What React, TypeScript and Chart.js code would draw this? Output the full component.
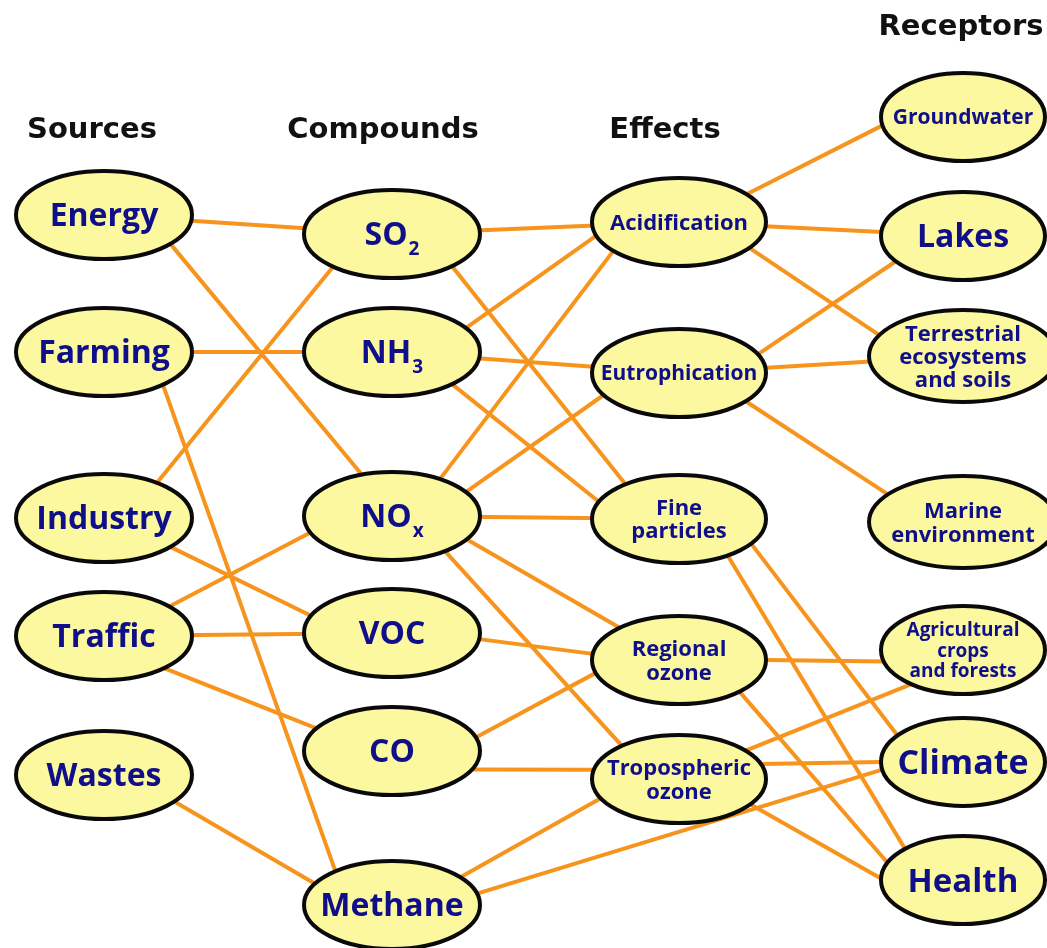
import { useEffect, useRef } from "react";
import { Chart, registerables } from "chart.js";

Chart.register(...registerables);

// ---------------- data ----------------
const columnTitles = ["Sources", "Compounds", "Effects", "Receptors"];

const sourceNames = ["Energy", "Farming", "Industry", "Traffic", "Wastes"];
const sourceRows = [215, 352, 518, 636, 775];

const compoundNames = ["SO_2", "NH_3", "NO_x", "VOC", "CO", "Methane"];
const compoundRows = [234, 352, 516, 633, 751, 905];

const effectNames = ["Acidification", "Eutrophication", "Fine\nparticles", "Regional\nozone", "Tropospheric\nozone"];
const effectRows = [222, 373, 519, 660, 779];

const receptorNames = [
  "Groundwater",
  "Lakes",
  "Terrestrial\necosystems\nand soils",
  "Marine\nenvironment",
  "Agricultural\ncrops\nand forests",
  "Climate",
  "Health",
];
const receptorRows = [117, 236, 356, 522, 650, 762, 880];

// links (by first word of node label)
const linkSource = [
  "Energy", "Energy", "Farming", "Farming", "Industry", "Industry", "Traffic", "Traffic", "Traffic", "Wastes",
  "SO_2", "SO_2", "NH_3", "NH_3", "NH_3", "NO_x", "NO_x", "NO_x", "NO_x", "NO_x", "VOC", "CO", "CO", "Methane", "Methane",
  "Acidification", "Acidification", "Acidification", "Eutrophication", "Eutrophication", "Eutrophication",
  "Fine", "Fine", "Regional", "Regional", "Tropospheric", "Tropospheric", "Tropospheric",
];
const linkTarget = [
  "SO_2", "NO_x", "NH_3", "Methane", "SO_2", "VOC", "NO_x", "VOC", "CO", "Methane",
  "Acidification", "Fine", "Acidification", "Eutrophication", "Fine", "Acidification", "Eutrophication", "Fine", "Regional", "Tropospheric", "Regional", "Regional", "Tropospheric", "Tropospheric", "Climate",
  "Groundwater", "Lakes", "Terrestrial", "Lakes", "Terrestrial", "Marine",
  "Climate", "Health", "Agricultural", "Health", "Agricultural", "Climate", "Health",
];

// ---------------- layout / style ----------------
const W = 1047;
const H = 948;
const columnX = [104, 392, 679, 963];
const titleX = [92, 383, 665, 961];
const titleBaseline = [138, 138, 138, 35];

// attachment angle (deg) on the ellipse rim for each link end; null = centre
const linkFromPort: (number | null)[] = [
  null, 41, null, 48, -53, 41, -42, null, 47, 37,
  null, 47, -33, null, 47, -57, -33, null, 32, 53, 8, -18, 25, -39, -15,
  -39, null, 36, -25, null, 40,
  34, 56, 0, 46, -40, -20, 35,
];
const linkToPort: (number | null)[] = [
  null, -110, null, -130, 132, -157, 158, null, -149, -151,
  null, -128, 162, null, -157, 139, 150, null, -133, -131, -172, 163, -168, 154, 170,
  169, null, -153, 145, null, -143,
  -143, -135, 165, -157, 129, 180, -178,
];

const labelSize: Record<string, number> = {
  Energy: 32, Farming: 32, Industry: 32, Traffic: 32, Wastes: 32,
  SO_2: 32, NH_3: 32, NO_x: 32, VOC: 32, CO: 32, Methane: 32,
  Acidification: 22, Eutrophication: 21, Fine: 22, Regional: 22, Tropospheric: 22,
  Groundwater: 21, Lakes: 32, Terrestrial: 22, Marine: 22, Agricultural: 19, Climate: 34, Health: 33,
};
const lineHeight: Record<string, number> = { Terrestrial: 23, Agricultural: 20.5, Marine: 24, Fine: 23, Regional: 24, Tropospheric: 24 };
const radiusX: Record<string, number> = { Terrestrial: 94, Marine: 94 };
const radiusY: Record<string, number> = { Terrestrial: 46, Marine: 46 };
const colRX = [88, 88, 87, 82];
const colRY = [44, 44, 44, 44];

const ORANGE = "#F7941D";
const FILL = "#FBF8A0";
const INK = "#0F0F8A";
const LABEL_FONT = '"Open Sans", "DejaVu Sans", sans-serif';
const TITLE_FONT = '"DejaVu Sans", "Open Sans", sans-serif';

type NodeT = { key: string; label: string; x: number; y: number; rx: number; ry: number };

function buildNodes(): NodeT[] {
  const cols = [
    [sourceNames, sourceRows],
    [compoundNames, compoundRows],
    [effectNames, effectRows],
    [receptorNames, receptorRows],
  ] as [string[], number[]][];
  const out: NodeT[] = [];
  cols.forEach(([names, rows], c) => {
    names.forEach((label, i) => {
      const key = label.split("\n")[0];
      out.push({
        key,
        label,
        x: columnX[c],
        y: rows[i],
        rx: radiusX[key] ?? colRX[c],
        ry: radiusY[key] ?? colRY[c],
      });
    });
  });
  return out;
}

function port(n: NodeT, deg: number | null) {
  if (deg === null) return { x: n.x, y: n.y };
  const a = (deg * Math.PI) / 180;
  return { x: n.x + n.rx * Math.cos(a), y: n.y + n.ry * Math.sin(a) };
}

function drawLabel(ctx: CanvasRenderingContext2D, key: string, label: string, cx: number, cy: number) {
  const size = labelSize[key] ?? 22;
  const lh = lineHeight[key] ?? size * 1.1;
  const lines = label.split("\n");
  ctx.fillStyle = INK;
  ctx.textBaseline = "alphabetic";
  lines.forEach((line, i) => {
    const base = cy + (i - (lines.length - 1) / 2) * lh + 0.357 * size;
    const parts = line.split("_");
    if (parts.length === 2) {
      const subSize = Math.round(size * 0.6);
      ctx.font = `bold ${size}px ${LABEL_FONT}`;
      const w1 = ctx.measureText(parts[0]).width;
      ctx.font = `bold ${subSize}px ${LABEL_FONT}`;
      const w2 = ctx.measureText(parts[1]).width;
      const gap = 1;
      const start = cx - (w1 + gap + w2) / 2;
      ctx.textAlign = "left";
      ctx.font = `bold ${size}px ${LABEL_FONT}`;
      ctx.fillText(parts[0], start, base);
      ctx.font = `bold ${subSize}px ${LABEL_FONT}`;
      ctx.fillText(parts[1], start + w1 + gap, base + size * 0.3);
    } else {
      ctx.font = `bold ${size}px ${LABEL_FONT}`;
      ctx.textAlign = "center";
      ctx.fillText(line, cx, base);
    }
  });
}

export default function App() {
  const ref = useRef<HTMLCanvasElement | null>(null);

  useEffect(() => {
    if (!ref.current) return;
    const nodes = buildNodes();
    const byKey: Record<string, NodeT> = {};
    nodes.forEach((n) => (byKey[n.key] = n));

    const linkSets = linkSource.map((s, i) => {
      const a = byKey[s];
      const b = byKey[linkTarget[i]];
      return {
        type: "scatter" as const,
        data: [port(a, linkFromPort[i]), port(b, linkToPort[i])],
        showLine: true,
        borderColor: ORANGE,
        borderWidth: 4,
        pointRadius: 0,
        pointHoverRadius: 0,
        fill: false,
        clip: false as any,
      };
    });

    const nodeIndex = linkSets.length;
    const nodeSet = {
      type: "scatter" as const,
      data: nodes.map((n) => ({ x: n.x, y: n.y })),
      showLine: false,
      pointRadius: 0,
      pointHoverRadius: 0,
      clip: false as any,
    };

    const diagramPlugin = {
      id: "diagram",
      afterDatasetsDraw(chart: any) {
        const ctx: CanvasRenderingContext2D = chart.ctx;
        const meta = chart.getDatasetMeta(nodeIndex);
        const xs = chart.scales.x;
        const ys = chart.scales.y;
        ctx.save();
        meta.data.forEach((el: any, i: number) => {
          const n = nodes[i];
          const rx = Math.abs(xs.getPixelForValue(n.x + n.rx) - el.x);
          const ry = Math.abs(ys.getPixelForValue(n.y + n.ry) - el.y);
          ctx.beginPath();
          ctx.ellipse(el.x, el.y, rx, ry, 0, 0, Math.PI * 2);
          ctx.fillStyle = FILL;
          ctx.fill();
          ctx.lineWidth = 4;
          ctx.strokeStyle = "#0a0a0a";
          ctx.stroke();
          drawLabel(ctx, n.key, n.label, el.x, el.y);
        });
        ctx.fillStyle = "#111111";
        ctx.font = `bold 29px ${TITLE_FONT}`;
        ctx.textAlign = "center";
        ctx.textBaseline = "alphabetic";
        columnTitles.forEach((t, i) => {
          ctx.fillText(t, xs.getPixelForValue(titleX[i]), ys.getPixelForValue(titleBaseline[i]));
        });
        ctx.restore();
      },
    };

    const chart = new Chart(ref.current, {
      type: "scatter",
      data: { datasets: [...linkSets, nodeSet] as any },
      options: {
        animation: false,
        responsive: false,
        maintainAspectRatio: false,
        events: [],
        layout: { padding: 0 },
        plugins: { legend: { display: false }, tooltip: { enabled: false }, title: { display: false } },
        scales: {
          x: { type: "linear", min: 0, max: W, display: false },
          y: { type: "linear", min: 0, max: H, reverse: true, display: false },
        },
      },
      plugins: [diagramPlugin],
    });
    return () => chart.destroy();
  }, []);

  return (
    <div style={{ position: "absolute", left: 0, top: 0, width: W, height: H, background: "#ffffff" }}>
      <canvas ref={ref} width={W} height={H} style={{ width: W, height: H, display: "block" }} />
    </div>
  );
}
